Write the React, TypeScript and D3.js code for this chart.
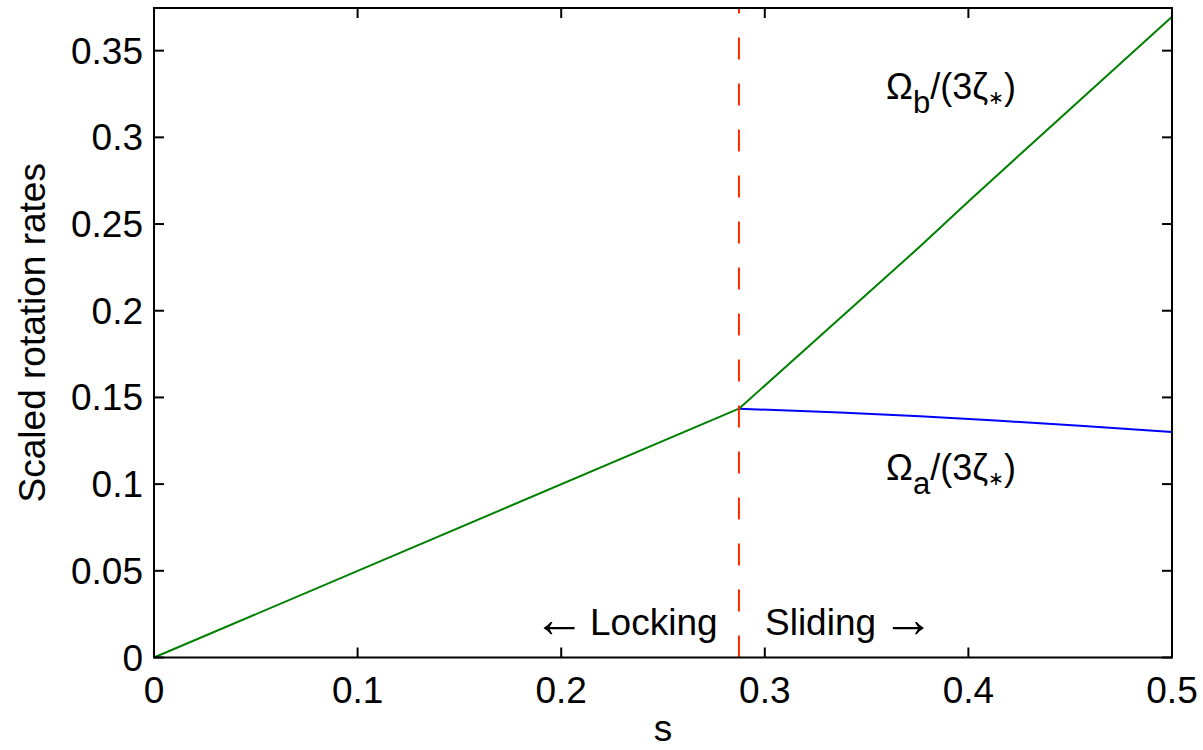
import React from "react";
import * as d3 from "d3";

// ---- data ----
const sTransition = 0.2873;
const sLock = [0, 0.2873];
const omegaLock = [0, 0.1435];
const sSlideA = [0.2873, 0.3369, 0.3762, 0.4155, 0.4548, 0.5];
const omegaA = [0.1435, 0.1413, 0.1391, 0.1365, 0.1336, 0.13];
const sSlideB = [0.2873, 0.3762, 0.4008, 0.5];
const omegaB = [0.1435, 0.237, 0.2639, 0.3696];
const xTicks = [0, 0.1, 0.2, 0.3, 0.4, 0.5];
const yTicks = [0, 0.05, 0.1, 0.15, 0.2, 0.25, 0.3, 0.35];
const xDomain = [0, 0.5];
const yDomain = [0, 0.3746];

const W = 1203;
const H = 750;
const M = { left: 154, right: 1172, top: 8, bottom: 657.5 };
const FONT = "'Liberation Sans', Arial, Helvetica, sans-serif";

const fmt = (v: number) => d3.format(".2f")(v).replace(/0+$/, "").replace(/\.$/, "");

export default function App() {
  const x = d3.scaleLinear().domain(xDomain).range([M.left, M.right]);
  const y = d3.scaleLinear().domain(yDomain).range([M.bottom, M.top]);
  const line = (xs: number[], ys: number[], curve = d3.curveLinear) =>
    d3
      .line<number>()
      .x((_, i) => x(xs[i]))
      .y((d) => y(d))
      .curve(curve)(ys) || "";

  const tickLen = 10;
  return (
    <svg
      width={W}
      height={H}
      style={{ position: "absolute", left: 0, top: 0, background: "#fff" }}
      fontFamily={FONT}
    >
      <rect x={0} y={0} width={W} height={H} fill="#fff" />
      {/* data lines */}
      <path d={line(sSlideA, omegaA, d3.curveMonotoneX)} fill="none" stroke="#0000ff" strokeWidth={2} />
      <path d={line(sSlideB, omegaB)} fill="none" stroke="#008000" strokeWidth={2} />
      <path d={line(sLock, omegaLock)} fill="none" stroke="#008000" strokeWidth={2} />
      {/* transition dashed line */}
      <line
        x1={x(sTransition)}
        x2={x(sTransition)}
        y1={M.bottom}
        y2={M.top}
        stroke="#ff2a00"
        strokeWidth={2}
        strokeDasharray="22,24"
      />
      {/* axes box */}
      <rect
        x={M.left}
        y={M.top}
        width={M.right - M.left}
        height={M.bottom - M.top}
        fill="none"
        stroke="#000"
        strokeWidth={2}
      />
      {/* x ticks */}
      {xTicks.map((t) => (
        <g key={"x" + t}>
          <line x1={x(t)} x2={x(t)} y1={M.bottom} y2={M.bottom - tickLen} stroke="#000" strokeWidth={2} />
          <line x1={x(t)} x2={x(t)} y1={M.top} y2={M.top + tickLen} stroke="#000" strokeWidth={2} />
          <text x={x(t)} y={703} fontSize={37} textAnchor="middle" fill="#000">
            {fmt(t)}
          </text>
        </g>
      ))}
      {/* y ticks */}
      {yTicks.map((t) => (
        <g key={"y" + t}>
          <line x1={M.left} x2={M.left + tickLen} y1={y(t)} y2={y(t)} stroke="#000" strokeWidth={2} />
          <line x1={M.right} x2={M.right - tickLen} y1={y(t)} y2={y(t)} stroke="#000" strokeWidth={2} />
          <text x={143} y={y(t) + 13} fontSize={37} textAnchor="end" fill="#000">
            {fmt(t)}
          </text>
        </g>
      ))}
      {/* axis labels */}
      <text x={(M.left + M.right) / 2} y={741} fontSize={37} textAnchor="middle" fill="#000">
        s
      </text>
      <text
        transform={`translate(45,${(M.top + M.bottom) / 2}) rotate(-90)`}
        fontSize={37}
        textAnchor="middle"
        fill="#000"
      >
        Scaled rotation rates
      </text>
      {/* annotations */}
      <text x={886} y={99} fontSize={36} fill="#000">
        Ω<tspan fontSize={31} dy={14}>b</tspan>
        <tspan dy={-14}>/(3ζ</tspan>
        <tspan fontSize={19} dy={5}>∗</tspan>
        <tspan dy={-5}>)</tspan>
      </text>
      <text x={886} y={480} fontSize={36} fill="#000">
        Ω<tspan fontSize={31} dy={14}>a</tspan>
        <tspan dy={-14}>/(3ζ</tspan>
        <tspan fontSize={19} dy={5}>∗</tspan>
        <tspan dy={-5}>)</tspan>
      </text>
      <text x={590} y={635} fontSize={37} fill="#000">
        <tspan x={533} y={637} fontSize={52}>←</tspan>
        <tspan x={590} y={635}>Locking</tspan>
      </text>
      <text x={765} y={635} fontSize={37} fill="#000">
        Sliding
        <tspan x={882} y={637} fontSize={52}>→</tspan>
      </text>
    </svg>
  );
}
